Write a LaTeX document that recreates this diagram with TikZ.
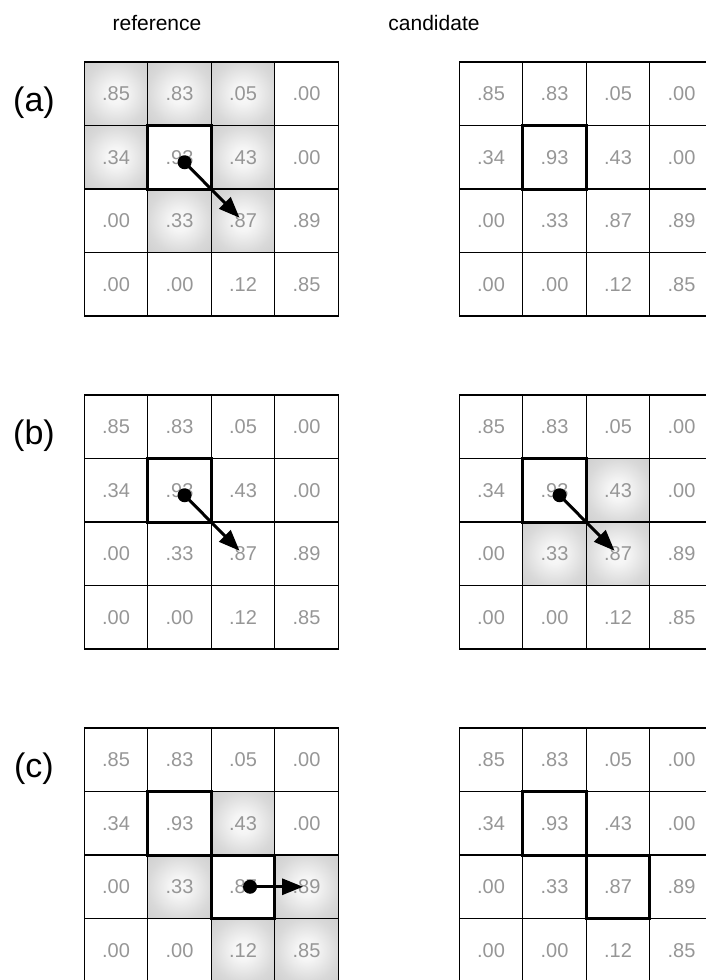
\documentclass[tikz,border=0pt]{standalone}
\usepackage{fontspec}
\setmainfont{Liberation Sans}
\usetikzlibrary{arrows.meta}
\definecolor{numgray}{RGB}{150,150,150}
\pgfdeclareradialshading{cellshade}{\pgfpointorigin}{color(0bp)=(white!98!black); color(8bp)=(white!96!black); color(25bp)=(white!85!black); color(36bp)=(white!81!black); color(50bp)=(white!81!black)}
\tikzset{
  cell/.style={draw=black, line width=1.2pt, minimum size=63.5pt, inner sep=0pt, outer sep=0pt, text=numgray, font=\fontsize{20}{24}\selectfont},
  hot/.style={draw=black, line width=3pt},
  arr/.style={-{Triangle[length=21pt,width=16pt]}, line width=3pt},
  dotmark/.style={fill=black},
  title/.style={anchor=base, font=\fontsize{21}{25}\selectfont},
  lab/.style={anchor=base, font=\fontsize{34}{40}\selectfont}
}
\newcommand\drawgrid[3]{%
  \foreach \row [count=\r from 0] in {{.85,.83,.05,.00},{.34,.93,.43,.00},{.00,.33,.87,.89},{.00,.00,.12,.85}} {
    \foreach \v [count=\c from 0] in \row {
      \node[cell] (#1-\r-\c) at ({#2+(\c+0.5)*63.5},{#3+(\r+0.5)*63.5}) {\v};
    }
  }
}
\newcommand\shadecells[3]{%
  \foreach \r/\c in {#3} {
    \shade[shading=cellshade] ({#1+\c*63.5},{#2+\r*63.5}) rectangle ++(63.5,63.5);
  }
}
\newcommand\hotcell[1]{\draw[hot] (#1.north west) rectangle (#1.south east);}
\begin{document}
\begin{tikzpicture}[x=1pt,y=-1pt]
\useasboundingbox (0,0) rectangle (706,980);
\clip (0,0) rectangle (706,980);
\node[title] (t1) at (157,30) {reference};
\node[title] (t2) at (434,30) {candidate};
\node[lab] (la) at (34,111) {(a)};
\node[lab] (lb) at (34,444) {(b)};
\node[lab] (lc) at (34,777) {(c)};
% shading
\shadecells{84.3}{62}{0/0,0/1,0/2,1/0,1/2,2/1,2/2}
\shadecells{459.3}{395}{1/2,2/1,2/2}
\shadecells{84.3}{728}{1/2,2/1,2/3,3/2,3/3}
% grids
\drawgrid{ar}{84.3}{62}
\drawgrid{ac}{459.3}{62}
\drawgrid{br}{84.3}{395}
\drawgrid{bc}{459.3}{395}
\drawgrid{cr}{84.3}{728}
\drawgrid{cc}{459.3}{728}
% highlighted cells
\hotcell{ar-1-1}
\hotcell{ac-1-1}
\hotcell{br-1-1}
\hotcell{bc-1-1}
\hotcell{cr-1-1}
\hotcell{cr-2-2}
\hotcell{cc-1-1}
\hotcell{cc-2-2}
% arrows
\coordinate (a0) at ([shift={(5,5)}]ar-1-1.center);
\coordinate (a1) at ([shift={(-3.5,-3)}]ar-2-2.center);
\draw[arr] (a0) -- (a1);
\fill[dotmark] (a0) circle (7pt);
\coordinate (b0) at ([shift={(5,5)}]br-1-1.center);
\coordinate (b1) at ([shift={(-3.5,-3)}]br-2-2.center);
\draw[arr] (b0) -- (b1);
\fill[dotmark] (b0) circle (7pt);
\coordinate (d0) at ([shift={(5,5)}]bc-1-1.center);
\coordinate (d1) at ([shift={(-3.5,-3)}]bc-2-2.center);
\draw[arr] (d0) -- (d1);
\fill[dotmark] (d0) circle (7pt);
\coordinate (c0) at ([shift={(7,0)}]cr-2-2.center);
\coordinate (c1) at ([shift={(-3.5,0)}]cr-2-3.center);
\draw[arr] (c0) -- (c1);
\fill[dotmark] (c0) circle (7pt);
\end{tikzpicture}
\end{document}
